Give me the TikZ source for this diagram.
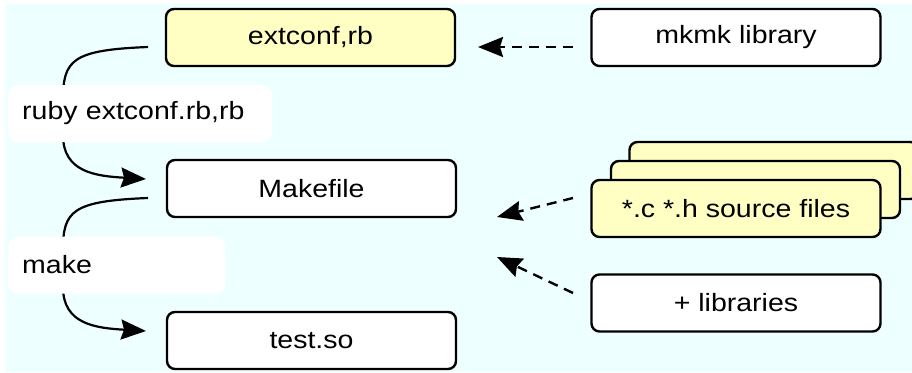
\documentclass[tikz,border=0pt]{standalone}
\usepackage{fontspec}
\setmainfont{Liberation Sans}[FakeStretch=1.14]
\usetikzlibrary{arrows.meta}
\pgfdeclarelayer{back}
\pgfdeclarelayer{edges}
\pgfsetlayers{back,edges,main}
\definecolor{bgcyan}{RGB}{238,255,255}
\definecolor{fileyellow}{RGB}{255,255,196}
\tikzset{
  box/.style={draw=black, line width=2.4pt, rounded corners=8pt, fill=white,
    minimum width=289pt, minimum height=57pt, inner sep=0pt,
    font=\fontsize{25}{30}\selectfont},
  yellowbox/.style={box, fill=fileyellow},
  steplabel/.style={fill=white, rounded corners=10pt, anchor=west,
    minimum height=57pt, inner xsep=14pt, inner ysep=0pt, align=left,
    font=\fontsize{25}{30}\selectfont},
  flow/.style={line width=2.2pt, -{Stealth[length=25pt,width=20pt,inset=3pt]}},
  feed/.style={line width=2.4pt, dash pattern=on 10pt off 7pt,
    -{Stealth[length=25pt,width=20pt,inset=3pt]}},
}
\begin{document}
\begin{tikzpicture}[x=1pt,y=-1pt]
  \useasboundingbox (0,0) rectangle (912,372);
  \clip (0,0) rectangle (912,372);
  \begin{pgfonlayer}{back}
    \fill[bgcyan] (5,4) rectangle (912,372);
  \end{pgfonlayer}

  % build products, left column
  \node[yellowbox] (ext)  at (310.5,37.5) {extconf,rb};
  \node[box]       (mkf)  at (311.5,188.5) {Makefile};
  \node[box]       (so)   at (311.5,340.5) {test.so};

  % inputs, right column
  \node[box]       (mkmk) at (736,37.5) {mkmk library};
  \node[yellowbox] (src3) at (774,170.5) {};
  \node[yellowbox] (src2) at (755.5,189.5) {};
  \node[yellowbox] (src1) at (736,208.5) {*.c *.h source files};
  \node[box]       (libs) at (736,303) {+ libraries};

  % command labels
  \node[steplabel, text width=236pt] (ruby) at (8,113.5) {ruby extconf.rb,rb};
  \node[steplabel, text width=189pt] (mk)   at (8,265)   {make};

  % connector end points
  \coordinate (extout)  at (148,47);
  \coordinate (mkfin)   at (146,179);
  \coordinate (mkfout)  at (148,198);
  \coordinate (soin)    at (146,331);
  \coordinate (mkmkout) at (573,47);
  \coordinate (extin)   at (478,47);
  \coordinate (srcout)  at (573,198);
  \coordinate (libsout) at (573,293);
  \coordinate (srcin)   at (497,217);
  \coordinate (libsin)  at (497,257);

  \begin{pgfonlayer}{edges}
    \draw[flow] (extout) .. controls (72,50) and (63,60) .. (63,100)
      -- (63,135) .. controls (63,172) and (95,176) .. (mkfin);
    \draw[flow] (mkfout) .. controls (72,201) and (63,211) .. (63,250)
      -- (63,287) .. controls (63,324) and (95,328) .. (soin);
    \draw[feed] (mkmkout) -- (extin);
    \draw[feed] (srcout) -- (srcin);
    \draw[feed] (libsout) -- (libsin);
  \end{pgfonlayer}
\end{tikzpicture}
\end{document}
